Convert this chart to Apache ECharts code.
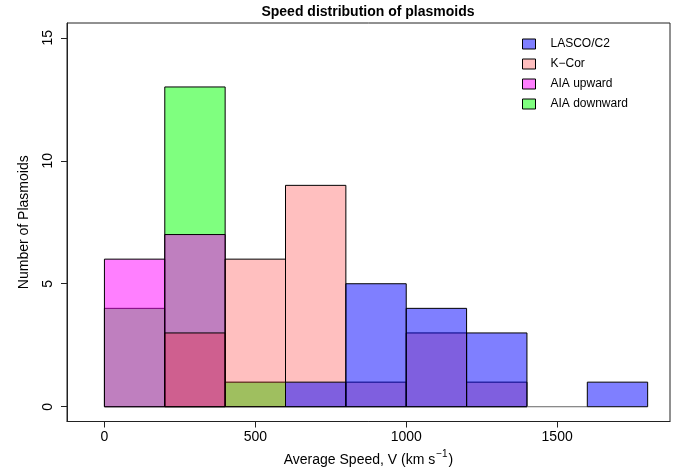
<!DOCTYPE html>
<html>
<head>
<meta charset="utf-8">
<script src="https://cdn.jsdelivr.net/npm/echarts@6/dist/echarts.min.js"></script>
<style>
  html, body { margin: 0; padding: 0; background: #fff; }
  #chart { width: 686px; height: 468px; }
</style>
</head>
<body>
<div id="chart"></div>
<script>
// Histogram bins (km/s): each bin is [start, start + binWidth)
const binStarts = [0, 200, 400, 600, 800, 1000, 1200, 1400, 1600];
const binWidth = 200;

// Counts per bin; null = outside that histogram's range
const lascoCounts   = [null, null, null, 1, 5, 4, 3, 0, 1];
const kcorCounts    = [null, 3, 6, 9, 1, 3, 1, null, null];
const aiaUpCounts   = [6, 7, null, null, null, null, null, null, null];
const aiaDownCounts = [4, 13, 1, null, null, null, null, null, null];

const seriesNames = ['LASCO/C2', 'K\u2212Cor', 'AIA upward', 'AIA downward'];
const xTicks = [0, 500, 1000, 1500];
const yTicks = [0, 5, 10, 15];

const FONT = '"Liberation Sans", Arial, Helvetica, sans-serif';

function toBins(counts) {
  const out = [];
  counts.forEach((c, i) => {
    if (c !== null) out.push([binStarts[i], binStarts[i] + binWidth, c]);
  });
  return out;
}

function histSeries(name, counts, fill) {
  return {
    name: name,
    type: 'custom',
    itemStyle: { color: fill, borderColor: '#000', borderWidth: 1 },
    encode: { x: [0, 1], y: 2 },
    data: toBins(counts),
    renderItem: function (params, api) {
      const x0 = api.value(0), x1 = api.value(1), n = api.value(2);
      const p0 = api.coord([x0, 0]);
      const p1 = api.coord([x1, n]);
      if (n === 0) {
        // empty bin: flat outline along the baseline
        return {
          type: 'line',
          shape: { x1: p0[0], y1: p0[1], x2: p1[0], y2: p0[1] },
          style: { stroke: '#666', lineWidth: 1 }
        };
      }
      return {
        type: 'rect',
        shape: { x: p0[0], y: p1[1], width: p1[0] - p0[0], height: p0[1] - p1[1] },
        style: { fill: fill, stroke: '#000', lineWidth: 1 }
      };
    }
  };
}

const colors = {
  lasco: 'rgba(0,0,255,0.5)',
  kcor: 'rgba(255,0,0,0.25)',
  aiaUp: 'rgba(255,0,255,0.5)',
  aiaDown: 'rgba(0,255,0,0.5)'
};

const chart = echarts.init(document.getElementById('chart'), null, { renderer: 'canvas' });

chart.setOption({
  animation: false,
  backgroundColor: '#fff',
  textStyle: { fontFamily: FONT },
  title: {
    text: 'Speed distribution of plasmoids',
    left: 368, top: 1, textAlign: 'center', padding: 0,
    textStyle: { fontFamily: FONT, fontSize: 14, fontWeight: 'bold', color: '#000', lineHeight: 22 }
  },
  grid: {
    left: 67, right: 16, top: 23, bottom: 46.5,
    outerBoundsMode: 'none',
    containLabel: false,
    show: true, borderColor: '#222', borderWidth: 1, backgroundColor: 'transparent'
  },
  legend: {
    orient: 'vertical',
    left: 522, top: 37, padding: 0,
    itemWidth: 13, itemHeight: 10, itemGap: 6,
    icon: 'rect',
    textStyle: { fontFamily: FONT, fontSize: 12, color: '#000', lineHeight: 14, padding: [0, 0, 0, 10] },
    data: [
      { name: seriesNames[0], itemStyle: { color: colors.lasco, borderColor: '#000', borderWidth: 1 } },
      { name: seriesNames[1], itemStyle: { color: colors.kcor, borderColor: '#000', borderWidth: 1 } },
      { name: seriesNames[2], itemStyle: { color: colors.aiaUp, borderColor: '#000', borderWidth: 1 } },
      { name: seriesNames[3], itemStyle: { color: colors.aiaDown, borderColor: '#000', borderWidth: 1 } }
    ]
  },
  xAxis: {
    type: 'value',
    min: -124, max: 1874,
    splitLine: { show: false },
    axisLine: { show: true, onZero: false, lineStyle: { color: '#222', width: 1 } },
    axisTick: { show: true, customValues: xTicks, length: 6, lineStyle: { color: '#222', width: 1 } },
    axisLabel: {
      customValues: xTicks, margin: 9, fontFamily: FONT, fontSize: 14, color: '#000',
      formatter: function (v) { return String(v); }
    },
    name: '{a|Average Speed, V (km s}{s|\u22121}{a|)}',
    nameLocation: 'middle',
    nameGap: 28,
    nameMoveOverlap: false,
    nameTextStyle: {
      rich: {
        a: { fontFamily: FONT, fontSize: 14, color: '#000', lineHeight: 18, verticalAlign: 'bottom' },
        s: { fontFamily: FONT, fontSize: 10, color: '#000', lineHeight: 18, verticalAlign: 'top', padding: [0, 1, 0, 1] }
      }
    }
  },
  yAxis: {
    type: 'value',
    min: -0.6, max: 15.6,
    splitLine: { show: false },
    axisLine: { show: true, onZero: false, lineStyle: { color: '#222', width: 1 } },
    axisTick: { show: true, customValues: yTicks, length: 6, lineStyle: { color: '#222', width: 1 } },
    axisLabel: {
      customValues: yTicks, rotate: 90, margin: 12, fontFamily: FONT, fontSize: 14, color: '#000',
      formatter: function (v) { return String(v); }
    },
    name: 'Number of Plasmoids',
    nameLocation: 'middle',
    nameGap: 36,
    nameMoveOverlap: false,
    nameTextStyle: { fontFamily: FONT, fontSize: 14, color: '#000' }
  },
  series: [
    histSeries(seriesNames[3], aiaDownCounts, colors.aiaDown),
    histSeries(seriesNames[2], aiaUpCounts, colors.aiaUp),
    histSeries(seriesNames[1], kcorCounts, colors.kcor),
    histSeries(seriesNames[0], lascoCounts, colors.lasco)
  ]
});
</script>
</body>
</html>
